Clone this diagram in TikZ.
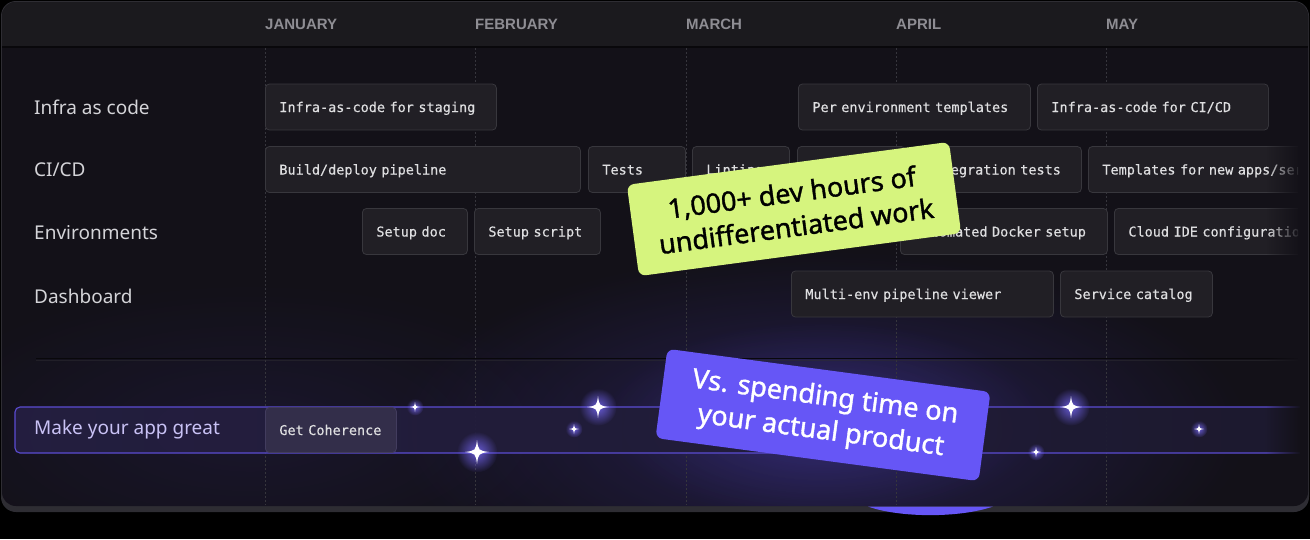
\documentclass[tikz,border=0pt]{standalone}
\usepackage{fontspec}
\setmainfont{Noto Sans}
\newfontfamily\monofont{DejaVu Sans Mono}[FakeBold=0.4]
\newfontfamily\headfont{Liberation Sans}
\newfontfamily\stickerfont{Noto Sans}[FakeBold=1.3]
\usetikzlibrary{fadings}

\definecolor{cardbg}{HTML}{131118}
\definecolor{cardrim}{HTML}{2E2D33}
\definecolor{headbg}{HTML}{1B1A1E}
\definecolor{headsep}{HTML}{09080B}
\definecolor{gridcol}{HTML}{36353C}
\definecolor{monthcol}{HTML}{8E8D93}
\definecolor{rowcol}{HTML}{D4D4D8}
\definecolor{taskbg}{HTML}{211F25}
\definecolor{taskline}{HTML}{38373D}
\definecolor{tasktext}{HTML}{DEDEE0}
\definecolor{bandline}{HTML}{5B4CD2}
\definecolor{bandleft}{HTML}{251F42}
\definecolor{bandright}{HTML}{1D1A30}
\definecolor{bandtext}{HTML}{C9C2F5}
\definecolor{cohbg}{HTML}{332E4A}
\definecolor{cohline}{HTML}{423C5E}
\definecolor{limec}{HTML}{D6F47E}
\definecolor{violetc}{HTML}{6656F6}
\definecolor{glowc}{HTML}{4B3CC0}
\definecolor{sparkglow}{HTML}{7A6BFF}

\tikzfading[name=softglow, inner color=transparent!0, outer color=transparent!100]
\tikzfading[name=fadeinright, left color=transparent!100, right color=transparent!0]

\tikzset{
  monthlabel/.style={anchor=base west, text=monthcol, font=\headfont\fontsize{15}{18}\selectfont\bfseries, inner sep=0},
  rowlabel/.style={anchor=west, text=rowcol, font=\fontsize{19}{22}\selectfont, inner sep=0},
  task/.style={draw=taskline, fill=taskbg, rounded corners=4, line width=0.8,
    minimum height=46, inner xsep=14, inner ysep=0, text=tasktext, anchor=west,
    align=left, text height=10pt, text depth=0pt,
    font=\monofont\fontsize{13.5}{16}\selectfont},
  gridline/.style={draw=gridcol, line width=0.8, dash pattern=on 2 off 2},
  sticker/.style={rounded corners=7, align=center, inner sep=0,
    font=\stickerfont\fontsize{27}{34}\selectfont},
  sparkle/.pic={
    \fill[sparkglow, fill opacity=0.8, path fading=softglow] (0,0) circle (1.7);
    \fill[white] (0,-1) .. controls (0.12,-0.12) .. (1,0)
      .. controls (0.12,0.12) .. (0,1)
      .. controls (-0.12,0.12) .. (-1,0)
      .. controls (-0.12,-0.12) .. (0,-1) -- cycle;
  }
}

% task box from left edge #2 to right edge #3, centred on row #4
\newcommand\taskbox[5]{%
  \pgfmathsetmacro\tw{#3-#2-28}%
  \node[task, text width=\tw pt] (#1) at (#2,#4) {#5};}

\begin{document}
\begin{tikzpicture}[x=1pt,y=-1pt]
\useasboundingbox (0,0) rectangle (1310,539);
\fill[black] (0,0) rectangle (1310,539);

% card
\fill[cardrim, rounded corners=15] (1,1) rectangle (1309,512);
\fill[cardbg, rounded corners=14] (2,2) rectangle (1308,506);

\begin{scope}
  \clip[rounded corners=14] (2,2) rectangle (1308,506);
  % header band
  \fill[headbg] (0,0) rectangle (1310,47);
  % violet haze around the lower half
  \fill[glowc, fill opacity=0.32, path fading=softglow] (820,430) ellipse [x radius=430, y radius=180];
  \fill[glowc, fill opacity=0.12, path fading=softglow] (250,430) ellipse [x radius=350, y radius=150];
  \fill[violetc, fill opacity=0.25, path fading=softglow] (823,420) ellipse [x radius=220, y radius=100];
\end{scope}
\draw[headsep, line width=1.2] (2,47) -- (1308,47);

% month columns
\foreach \x/\m/\n in {265/JANUARY/jan, 475/FEBRUARY/feb, 686/MARCH/mar, 896/APRIL/apr, 1106/MAY/may}{
  \draw[gridline] (\x,48) -- (\x,505);
  \node[monthlabel] (m\n) at (\x,29.5) {\m};
}

% lower separator
\draw[headsep, line width=1.5] (36,358.5) -- (1298,358.5);
\draw[cardrim, line width=0.6, opacity=0.5] (36,360.5) -- (1298,360.5);

% row labels
\node[rowlabel] (rInfra) at (34,107) {Infra as code};
\node[rowlabel] (rCICD) at (34,170) {CI/CD};
\node[rowlabel] (rEnv) at (34,233) {Environments};
\node[rowlabel] (rDash) at (34,296) {Dashboard};

% tasks
\begin{scope}
  \clip (0,0) rectangle (1298,539);
  \taskbox{t11}{265}{496}{107}{Infra-as-code for staging}
  \taskbox{t12}{798}{1030}{107}{Per environment templates}
  \taskbox{t13}{1037}{1268}{107}{Infra-as-code for CI/CD}

  \taskbox{t21}{265}{580}{169.5}{Build/deploy pipeline}
  \taskbox{t22}{588}{685}{169.5}{Tests}
  \taskbox{t23}{692}{789}{169.5}{Linting}
  \taskbox{t24}{797}{905}{169.5}{Unit tests}
  \taskbox{t25}{912}{1081}{169.5}{Integration tests}
  \taskbox{t26}{1088}{1400}{169.5}{Templates for new apps/services}

  \taskbox{t31}{362}{467}{231.5}{Setup doc}
  \taskbox{t32}{474}{600}{231.5}{Setup script}
  \taskbox{t33}{900}{1107}{231.5}{Automated Docker setup}
  \taskbox{t34}{1114}{1400}{231.5}{Cloud IDE configuration}

  \taskbox{t41}{791}{1053}{294}{Multi-env pipeline viewer}
  \taskbox{t42}{1060}{1212}{294}{Service catalog}
\end{scope}

% highlighted band
\shade[left color=bandleft, right color=bandright, fill opacity=0.92, rounded corners=5]
  (1300,407) -- (15,407) -- (15,453) -- (1300,453) -- cycle;
\draw[bandline, line width=1.1, rounded corners=5]
  (1300,407) -- (15,407) -- (15,453) -- (1300,453);
\node[rowlabel, text=bandtext] (rMake) at (34,430) {Make your app great};
\node[task, fill=cohbg, draw=cohline, minimum height=45, text width=103pt] (tCoh) at (265,430) {Get Coherence};

% right edge fade
\fill[cardbg, path fading=fadeinright] (1266,60) rectangle (1301,470);

% sparkles
\pic[scale=5] at (415,407) {sparkle};
\pic[scale=11] at (598,407) {sparkle};
\pic[scale=5] at (574,429) {sparkle};
\pic[scale=12] at (477,452) {sparkle};
\pic[scale=11] at (1071,407) {sparkle};
\pic[scale=5] at (1199,429) {sparkle};
\pic[scale=5] at (1036,452) {sparkle};

% stickers
\node[sticker, fill=limec, text=black, minimum width=325, minimum height=92, rotate=7.6]
  (sLime) at (794,209) {1,000+ dev hours of\\undifferentiated work};

\node[sticker, fill=violetc, text=white, minimum width=326, minimum height=90, rotate=-7.6]
  (sViolet) at (823,415) {Vs. spending time on\\your actual product};
\fill[violetc] (868,506.5) .. controls (900,518) and (960,518) .. (993,506.5) -- cycle;
\end{tikzpicture}
\end{document}
